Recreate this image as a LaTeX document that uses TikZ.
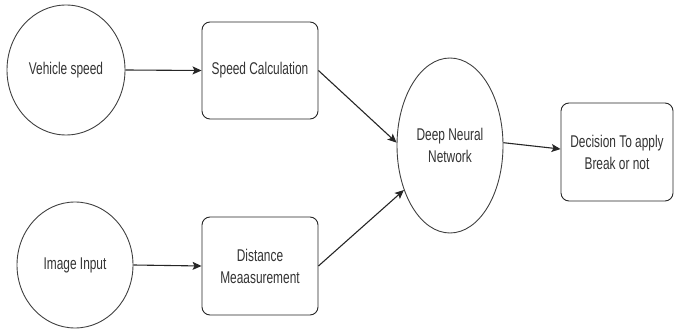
\documentclass[tikz,border=0pt]{standalone}
\usepackage{fontspec}
\newfontfamily\narrowfont[FakeStretch=0.7]{Liberation Sans}
\usetikzlibrary{shapes.geometric,arrows.meta}
\begin{document}
\begin{tikzpicture}[x=1pt,y=1pt,
  every node/.style={font=\narrowfont\fontsize{17}{22}\selectfont, text=black!80, align=center},
  oval/.style={ellipse, draw=black!75, line width=0.9pt, inner sep=0pt},
  procbox/.style={rectangle, rounded corners=8pt, draw=black!85, line width=0.9pt, inner sep=0pt},
  conn/.style={draw=black!85, line width=1.1pt, -{Stealth[length=9pt,width=8pt,inset=2pt]}}
]
\useasboundingbox (0,0) rectangle (674,329);
\node[oval, minimum width=118pt, minimum height=130pt] (vs) at (66,259) {Vehicle speed};
\node[procbox, minimum width=116pt, minimum height=97pt] (sc) at (260,258.5) {Speed Calculation};
\node[oval, minimum width=116pt, minimum height=126pt] (ii) at (75,64) {Image Input};
\node[procbox, minimum width=116pt, minimum height=98pt] (dm) at (260,63) {Distance\\Meaasurement};
\node[oval, minimum width=106pt, minimum height=175pt] (dnn) at (450,183.5) {Deep Neural\\Network};
\node[procbox, minimum width=112pt, minimum height=98pt] (dec) at (617,177) {Decision To apply\\Break or not};
\draw[conn] (vs.east) -- (sc.west);
\draw[conn] (ii.east) -- (dm.west);
\draw[conn] (sc.east) -- (dnn.177);
\draw[conn] (dm.east) -- (dnn.224);
\draw[conn] (dnn.3) -- (dec.177);
\end{tikzpicture}
\end{document}
